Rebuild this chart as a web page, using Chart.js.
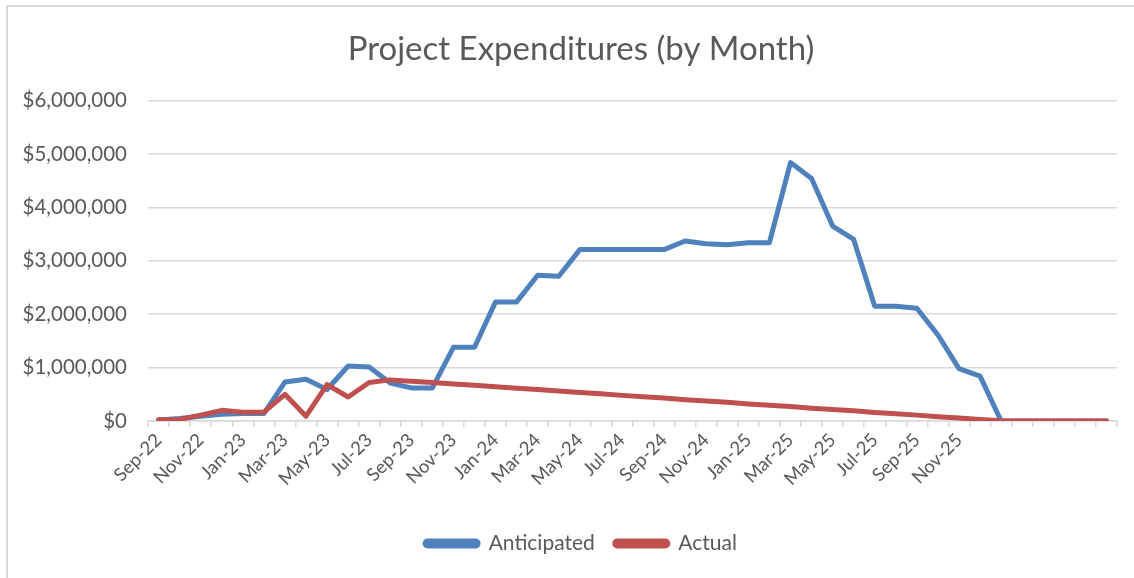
<!DOCTYPE html>
<html>
<head>
<meta charset="utf-8">
<script src="https://cdn.jsdelivr.net/npm/chart.js@4.4.1/dist/chart.umd.min.js"></script>
<style>
  html, body { margin: 0; padding: 0; background: #ffffff; }
  #wrap { position: relative; width: 1134px; height: 578px; overflow: hidden; }
  #frame { position: absolute; left: 6px; top: 5px; width: 1200px; height: 700px;
           border-top: 2px solid #D9D9D9; border-left: 2px solid #D9D9D9; }
  #c { position: absolute; left: 0; top: 0; }
</style>
</head>
<body>
<div id="wrap">
  <div id="frame"></div>
  <canvas id="c" width="1134" height="578"></canvas>
</div>
<script>
const categories = [
  'Sep-22','Oct-22','Nov-22','Dec-22','Jan-23','Feb-23','Mar-23','Apr-23','May-23','Jun-23',
  'Jul-23','Aug-23','Sep-23','Oct-23','Nov-23','Dec-23','Jan-24','Feb-24','Mar-24','Apr-24',
  'May-24','Jun-24','Jul-24','Aug-24','Sep-24','Oct-24','Nov-24','Dec-24','Jan-25','Feb-25',
  'Mar-25','Apr-25','May-25','Jun-25','Jul-25','Aug-25','Sep-25','Oct-25','Nov-25','Dec-25',
  '','','','','',''
];
const anticipated = [
  20000, 45000, 90000, 125000, 140000, 140000, 730000, 780000, 590000, 1030000,
  1010000, 710000, 620000, 620000, 1380000, 1380000, 2230000, 2230000, 2730000, 2710000,
  3210000, 3210000, 3210000, 3210000, 3210000, 3370000, 3320000, 3300000, 3340000, 3340000,
  4840000, 4540000, 3650000, 3400000, 2150000, 2150000, 2110000, 1610000, 980000, 840000,
  0, 0, 0, 0, 0, 0
];
const actual = [
  25000, 30000, 110000, 200000, 165000, 165000, 500000, 90000, 680000, 450000,
  720000, 770000, 745000, 720000, 695000, 670000, 640000, 615000, 590000, 560000,
  535000, 510000, 480000, 455000, 430000, 400000, 375000, 350000, 320000, 295000,
  270000, 240000, 215000, 190000, 160000, 135000, 110000, 80000, 55000, 30000,
  5000, 0, 0, 0, 0, 0
];
const yTicks = { min: 0, max: 6000000, step: 1000000 };

const FONT = 'Lato, "Open Sans", sans-serif';
const TXT = '#595959';

// shift title and legend so they are centred like the reference (centre ~x=581)
const centreShift = {
  id: 'centreShift',
  afterLayout(chart) {
    if (chart.titleBlock) chart.titleBlock.left = 45;
    if (chart.legend) chart.legend.left = 45;
  }
};

new Chart(document.getElementById('c'), {
  type: 'line',
  data: {
    labels: categories,
    datasets: [
      { label: 'Anticipated', data: anticipated, borderColor: '#4F81BD', backgroundColor: '#4F81BD',
        borderWidth: 5, pointRadius: 0, tension: 0, borderJoinStyle: 'round', borderCapStyle: 'round', order: 1 },
      { label: 'Actual', data: actual, borderColor: '#C0504D', backgroundColor: '#C0504D',
        borderWidth: 5, pointRadius: 0, tension: 0, borderJoinStyle: 'round', borderCapStyle: 'round', order: 0 }
    ]
  },
  plugins: [centreShift],
  options: {
    responsive: false,
    animation: false,
    devicePixelRatio: 1,
    layout: { padding: { left: 0, right: 17, top: 0, bottom: 14 } },
    plugins: {
      tooltip: { enabled: false },
      title: {
        display: true, text: 'Project Expenditures (by Month)', color: TXT,
        font: { family: FONT, size: 33, weight: 'normal', lineHeight: 1.2 },
        padding: { top: 30, bottom: 31 }
      },
      legend: {
        position: 'bottom',
        labels: {
          color: TXT, font: { family: FONT, size: 21 },
          boxWidth: 53, boxHeight: 5, padding: 20, useBorderRadius: true, borderRadius: 2.5,
          sort: (a, b) => a.datasetIndex - b.datasetIndex
        }
      }
    },
    scales: {
      x: {
        type: 'category',
        offset: true,
        grid: { display: true, drawOnChartArea: false, drawTicks: true, tickLength: 6,
                color: '#D9D9D9', lineWidth: 1.5, offset: true },
        border: { display: true, color: '#D9D9D9', width: 1.5 },
        ticks: {
          autoSkip: false, maxRotation: 45, minRotation: 45, color: TXT, padding: 2,
          font: { family: FONT, size: 18.5 },
          callback: function(v, i) { return i % 2 === 0 ? this.getLabelForValue(v) : ''; }
        },
        afterFit: function(s) { s.height = 92; }
      },
      y: {
        min: yTicks.min, max: yTicks.max,
        grid: { color: '#D9D9D9', lineWidth: 1.5, drawTicks: false },
        border: { display: false },
        ticks: {
          stepSize: yTicks.step, color: TXT, padding: 21,
          font: { family: FONT, size: 20.5 },
          callback: v => '$' + Number(v).toLocaleString('en-US')
        },
        afterFit: function(s) { s.width = 148; }
      }
    }
  }
});
</script>
</body>
</html>
